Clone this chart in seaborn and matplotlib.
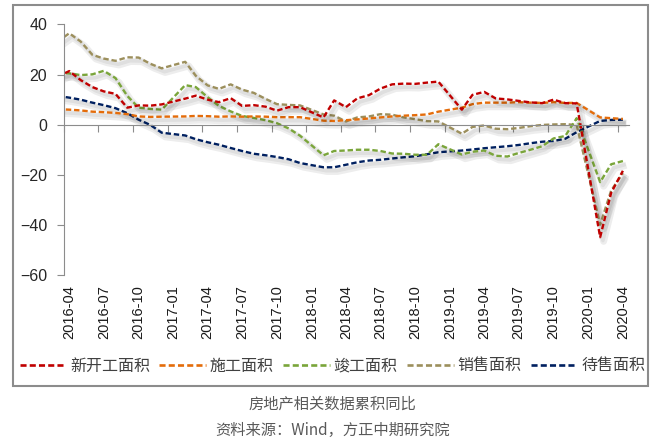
import numpy as np
import pandas as pd
import matplotlib
matplotlib.use('Agg')
import matplotlib.pyplot as plt
import matplotlib.patheffects as pe
import matplotlib.dates as mdates
from matplotlib.lines import Line2D
from matplotlib.patches import Rectangle
import seaborn as sns

# Données : cumul annuel, glissement annuel (%), pas de valeur en janvier
months = [m for m in pd.date_range('2016-03-01', '2020-04-01', freq='MS') if m.month != 1]
dates = [m + pd.Timedelta(days=14) for m in months]

new_start = [19.2, 21.4, 17.8, 15.0, 13.3, 12.3, 6.8, 7.7, 7.6, 8.1,
             10.4, 11.6, 10.0, 9.0, 10.6, 7.5, 7.8, 7.2, 5.6, 7.0, 7.0,
             2.9, 9.7, 7.0, 10.5, 11.8, 14.4, 16.1, 16.4, 16.3, 16.8, 17.2,
             6.0, 11.9, 13.1, 10.5, 10.1, 9.5, 8.9, 8.6, 10.0, 8.6, 8.5,
             -44.9, -27.2, -18.4]
construction = [6.2, 6.0, 5.7, 5.2, 5.0, 4.7, 4.2, 3.3, 3.1, 3.2,
                3.3, 3.5, 3.4, 3.2, 3.3, 3.2, 3.3, 3.2, 3.0, 3.0, 3.0,
                1.6, 1.5, 1.8, 2.1, 2.5, 2.9, 3.3, 3.6, 3.8, 4.1, 5.2,
                6.8, 8.2, 8.8, 8.8, 8.8, 9.0, 8.8, 8.7, 9.0, 8.7, 8.7,
                2.9, 2.6, 2.3]
completion = [20.5, 20.5, 19.8, 20.1, 21.5, 18.6, 11.5, 6.8, 6.3, 6.0,
              15.8, 15.0, 11.0, 7.5, 5.3, 3.5, 2.7, 1.8, 0.6, -1.5, -4.4,
              -12.2, -10.5, -10.3, -10.0, -10.0, -10.5, -11.5, -11.6, -12.0, -12.0, -7.8,
              -11.9, -10.8, -10.3, -12.4, -12.7, -11.3, -10.0, -8.6, -5.5, -4.5, 2.6,
              -22.9, -15.8, -14.5]
sales = [33.1, 36.5, 33.2, 27.9, 26.4, 25.5, 26.9, 26.8, 24.3, 22.5,
         25.1, 19.5, 15.7, 14.3, 16.1, 14.0, 12.7, 10.3, 8.2, 7.9, 7.7,
         4.1, 3.6, 1.3, 2.9, 3.3, 4.2, 4.0, 2.9, 2.2, 1.4, 1.3,
         -3.6, -0.9, -0.3, -1.6, -1.8, -1.3, -0.6, -0.1, 0.1, 0.2, -0.1,
         -39.9, -26.3, -19.3]
inventory = [11.5, 10.8, 10.0, 8.8, 7.8, 6.6, 4.6, 2.0, -0.1, -3.2,
             -4.3, -5.8, -7.0, -8.0, -9.3, -10.5, -11.6, -12.2, -12.9, -13.8, -15.3,
             -17.0, -17.0, -16.0, -15.0, -14.3, -14.0, -13.5, -13.0, -12.6, -11.8, -11.0,
             -10.3, -9.9, -9.4, -9.0, -8.6, -8.1, -7.4, -6.8, -6.5, -5.6, -3.0,
             1.5, 1.9, 2.0]

labels = ['新开工面积', '施工面积', '竣工面积', '销售面积', '待售面积']
colors = ['#C00000', '#E46C0A', '#7AA53A', '#9C8F5C', '#002060']
series = [new_start, construction, completion, sales, inventory]

df = pd.DataFrame({'date': dates})
for lab, vals in zip(labels, series):
    df[lab] = vals

dash = (0, (2.3, 1.2))
shadow = [pe.SimpleLineShadow(offset=(2.5, -3), shadow_color='k', alpha=0.07, linewidth=5,
                              dashes={'dash_offset': 0, 'dash_list': None}),
          pe.SimpleLineShadow(offset=(2, -2.5), shadow_color='k', alpha=0.06, linewidth=2.5,
                              dashes={'dash_offset': 0, 'dash_list': None}),
          pe.Normal()]

fig = plt.figure(figsize=(6.65, 4.42), dpi=100)
ax = fig.add_axes([0.0962, 0.3778, 0.8496, 0.5668])

# tracé : le rouge en dernier pour qu'il soit au-dessus
for lab, col in reversed(list(zip(labels, colors))):
    sns.lineplot(data=df, x='date', y=lab, ax=ax, color=col, linewidth=1.7,
                 linestyle=dash, path_effects=shadow)

ax.set_ylim(-60, 40)
ax.set_xlim(pd.Timestamp('2016-04-01'), pd.Timestamp('2020-05-01'))
ax.set_yticks(np.arange(-60, 41, 20))
ax.set_xlabel('')
ax.set_ylabel('')

# axe des catégories sur la ligne 0
tick_starts = pd.date_range('2016-04-01', '2020-04-01', freq='3MS')
ax.set_xticks(tick_starts)
ax.spines['bottom'].set_position(('data', 0))
ax.spines['bottom'].set_color('#8C8C8C')
ax.spines['left'].set_color('#8C8C8C')
for s in ['top', 'right']:
    ax.spines[s].set_visible(False)
ax.tick_params(axis='x', length=5, direction='out', color='#8C8C8C', labelbottom=False)
ax.tick_params(axis='y', length=5, direction='out', color='#8C8C8C', pad=7,
               labelsize=11.5, labelcolor='#262626')
for t in ax.get_yticklabels():
    t.set_fontfamily('Liberation Sans')

# étiquettes de dates en bas
sec = ax.secondary_xaxis('bottom')
label_pos = tick_starts + pd.Timedelta(days=14)
sec.set_xticks(mdates.date2num(label_pos))
sec.set_xticklabels([d.strftime('%Y-%m') for d in tick_starts], rotation=90,
                    fontsize=10.5, fontfamily='Liberation Sans', color='#1a1a1a')
sec.tick_params(length=0, pad=7)
sec.spines['bottom'].set_visible(False)

# légende
handles = [Line2D([], [], color=c, linewidth=1.9, linestyle=dash) for c in colors]
fig.legend(handles, labels, loc='center', bbox_to_anchor=(0.5, 0.172), ncol=5,
           frameon=False, handlelength=2.9, handletextpad=0.25, columnspacing=0.6,
           prop={'family': ['Noto Sans CJK SC', 'DejaVu Sans'], 'size': 11.5},
           labelcolor='#404040')

# cadre de la zone graphique
fig.patches.append(Rectangle((0.0195, 0.1267), 0.955, 0.862, transform=fig.transFigure,
                             fill=False, edgecolor='#8C8C8C', linewidth=1.5))

fig.text(0.5, 0.086, '房地产相关数据累积同比', ha='center', va='center', fontsize=11,
         color='#595959', family=['Noto Sans CJK SC', 'DejaVu Sans'], fontweight='light')
fig.text(0.5, 0.027, '资料来源：Wind，方正中期研究院', ha='center', va='center', fontsize=11,
         color='#595959', family=['Noto Sans CJK SC', 'DejaVu Sans'], fontweight='light')

fig.savefig('out.png', dpi=100)
